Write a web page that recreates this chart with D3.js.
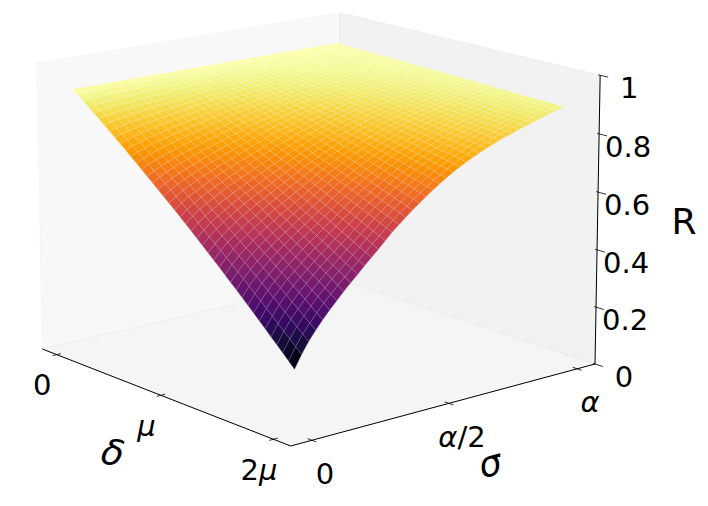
<!DOCTYPE html>
<html><head><meta charset="utf-8"><script src="https://cdn.jsdelivr.net/npm/d3@7/dist/d3.min.js"></script>
<style>html,body{margin:0;background:#fff}svg{display:block}text{font-family:"DejaVu Sans";fill:#000}</style></head><body><svg id="c" width="708" height="506"></svg>
<script>
// R x 1000. Rows: sigma from 0 to alpha; columns: delta from 0 to 2mu.
const rGridMilli=[
[913,898,883,868,852,837,821,806,790,774,758,741,725,708,692,675,658,641,624,607,589,572,554,536,518,500,482,464,445,426,408,389,370,351,331,312,292,273,253,233,213],
[913,899,885,871,856,842,827,812,797,782,767,752,736,721,705,690,674,658,642,625,609,593,576,559,542,525,508,491,474,456,439,421,403,385,367,349,330,312,293,274,256],
[913,900,886,873,859,846,832,818,804,790,775,761,746,732,717,702,687,672,657,642,626,611,595,579,563,547,531,515,498,482,465,449,432,415,398,381,363,346,328,311,293],
[913,900,888,875,862,849,836,823,809,796,782,769,755,741,727,713,699,684,670,655,641,626,611,596,581,566,550,535,519,504,488,472,456,440,424,408,391,375,358,341,324],
[913,901,889,877,865,852,840,827,814,802,789,776,763,749,736,723,709,695,682,668,654,640,626,611,597,583,568,553,539,524,509,494,478,463,448,432,417,401,385,369,353],
[913,902,890,879,867,855,843,831,819,807,795,782,770,757,745,732,719,706,693,680,667,653,640,626,613,599,585,571,557,543,528,514,500,485,470,456,441,426,411,396,380],
[913,902,891,880,869,858,847,835,824,812,800,789,777,765,753,741,728,716,703,691,678,666,653,640,627,614,600,587,574,560,547,533,519,505,491,477,463,449,434,420,405],
[913,903,892,882,871,861,850,839,828,817,806,795,783,772,760,749,737,725,714,702,690,678,665,653,641,628,616,603,590,577,564,551,538,525,512,498,485,471,458,444,430],
[913,903,893,883,873,863,853,842,832,822,811,800,789,779,768,757,746,734,723,712,700,689,677,665,654,642,630,618,606,593,581,569,556,544,531,518,505,492,479,466,453],
[913,904,894,885,875,865,856,846,836,826,816,806,795,785,775,764,754,743,732,722,711,700,689,677,666,655,644,632,620,609,597,585,573,561,549,537,525,513,500,488,475],
[913,904,895,886,877,868,859,849,840,831,821,811,802,792,782,772,762,752,742,732,721,711,700,690,679,669,658,647,636,625,614,603,591,580,569,557,546,534,522,510,499],
[913,905,896,888,879,870,862,853,844,835,826,817,808,798,789,780,770,761,751,741,732,722,712,702,692,682,672,661,651,641,630,619,609,598,587,576,565,554,543,532,521],
[913,905,897,889,881,873,865,856,848,840,831,822,814,805,796,787,778,769,760,751,742,733,723,714,705,695,685,676,666,656,646,636,626,616,606,596,585,575,565,554,543],
[913,906,898,891,883,875,868,860,852,844,836,828,820,812,803,795,787,778,770,761,752,744,735,726,717,708,699,690,681,672,662,653,644,634,625,615,605,595,586,576,566],
[913,906,899,892,885,878,871,863,856,849,841,834,826,818,811,803,795,787,779,771,763,755,747,738,730,722,713,705,696,688,679,670,661,653,644,635,626,617,607,598,589],
[913,906,900,893,887,880,873,866,860,853,846,839,831,824,817,810,802,795,788,780,772,765,757,749,742,734,726,718,710,702,694,686,677,669,661,652,644,635,627,618,609],
[913,907,901,895,888,882,876,869,863,856,850,843,837,830,823,816,810,803,796,789,782,774,767,760,753,745,738,731,723,715,708,700,692,685,677,669,661,653,645,637,629],
[913,907,902,896,890,884,878,872,866,860,854,848,842,835,829,823,816,810,803,797,790,784,777,770,763,757,750,743,736,729,721,714,707,700,693,685,678,670,663,655,648],
[913,908,902,897,892,886,881,875,870,864,858,852,847,841,835,829,823,817,811,805,799,793,786,780,774,767,761,754,748,741,735,728,721,714,708,701,694,687,680,673,666],
[913,908,903,898,893,888,883,878,873,867,862,857,851,846,840,835,829,824,818,813,807,801,795,789,784,778,772,766,760,753,747,741,735,729,722,716,709,703,697,690,683],
[913,908,904,899,895,890,885,880,876,871,866,861,856,851,846,841,836,830,825,820,815,809,804,798,793,787,782,776,771,765,759,754,748,742,736,730,724,718,712,706,700],
[913,909,905,900,896,892,887,883,878,874,869,865,860,856,851,846,841,837,832,827,822,817,812,807,802,797,792,787,781,776,771,766,760,755,750,744,739,733,728,722,716],
[913,909,905,901,897,893,889,885,881,877,873,868,864,860,856,851,847,842,838,833,829,824,820,815,810,806,801,796,791,786,782,777,772,767,762,757,752,747,741,736,731],
[913,909,906,902,898,895,891,887,883,880,876,872,868,864,860,856,852,848,844,839,835,831,827,823,818,814,810,805,801,796,792,787,783,778,773,769,764,759,755,750,745],
[913,910,906,903,900,896,893,889,886,882,879,875,871,868,864,860,857,853,849,845,841,838,834,830,826,822,818,814,810,805,801,797,793,789,784,780,776,772,767,763,758],
[913,910,907,904,901,897,894,891,888,885,881,878,875,871,868,864,861,858,854,851,847,843,840,836,832,829,825,821,818,814,810,806,802,798,794,790,786,782,778,774,770],
[913,910,907,905,902,899,896,893,890,887,884,881,878,875,871,868,865,862,859,855,852,849,846,842,839,835,832,828,825,822,818,814,811,807,804,800,796,793,789,785,781],
[913,910,908,905,903,900,897,894,892,889,886,883,880,878,875,872,869,866,863,860,857,854,851,848,845,842,838,835,832,829,826,822,819,816,812,809,806,802,799,795,792],
[913,911,908,906,903,901,899,896,894,891,888,886,883,881,878,875,873,870,867,865,862,859,856,853,851,848,845,842,839,836,833,830,827,824,821,818,815,812,809,806,802],
[913,911,909,906,904,902,900,897,895,893,890,888,886,883,881,879,876,874,871,869,866,864,861,858,856,853,850,848,845,842,840,837,834,831,829,826,823,820,817,814,811],
[913,911,909,907,905,903,901,899,897,894,892,890,888,886,884,881,879,877,875,872,870,868,865,863,860,858,856,853,851,848,846,843,841,838,836,833,830,828,825,823,820],
[913,911,909,907,906,904,902,900,898,896,894,892,890,888,886,884,882,880,878,876,873,871,869,867,865,863,860,858,856,854,851,849,847,844,842,840,837,835,832,830,828],
[913,911,910,908,906,905,903,901,899,898,896,894,892,890,888,887,885,883,881,879,877,875,873,871,869,867,865,863,861,859,857,855,853,851,848,846,844,842,840,838,835],
[913,911,910,908,907,905,904,902,901,899,897,896,894,893,891,889,888,886,884,882,881,879,877,875,874,872,870,868,866,864,862,861,859,857,855,853,851,849,847,845,843],
[913,912,910,909,908,906,905,903,902,900,899,898,896,895,893,892,890,889,887,885,884,882,881,879,877,876,874,873,871,869,868,866,864,862,861,859,857,855,854,852,850],
[913,912,911,909,908,907,906,904,903,902,901,899,898,897,895,894,893,891,890,888,887,886,884,883,881,880,879,877,876,874,873,871,870,868,866,865,863,862,860,859,857],
[913,912,911,910,909,908,907,905,904,903,902,901,900,899,898,896,895,894,893,892,890,889,888,887,885,884,883,882,880,879,878,876,875,874,872,871,870,868,867,865,864],
[913,912,911,910,909,908,907,906,905,905,904,903,902,901,900,898,897,896,895,894,893,892,891,890,889,888,887,886,884,883,882,881,880,879,878,876,875,874,873,872,870],
[913,912,911,911,910,909,908,907,907,906,905,904,903,902,902,901,900,899,898,897,896,895,894,893,892,892,891,890,889,888,887,886,885,884,883,882,881,880,879,878,877],
[913,912,912,911,910,910,909,908,908,907,906,906,905,904,903,903,902,901,901,900,899,898,898,897,896,895,894,894,893,892,891,890,890,889,888,887,886,885,885,884,883],
[913,912,912,911,911,910,910,909,909,908,908,907,907,906,905,905,904,904,903,903,902,901,901,900,900,899,898,898,897,896,896,895,895,894,893,893,892,891,891,890,889]
];
const rGrid=rGridMilli.map(r=>r.map(v=>v/1000));
const sigmaValues=rGrid.map((r,i)=>i/(rGrid.length-1)),deltaValues=rGrid[0].map((v,j)=>2*j/(rGrid[0].length-1));
const deltaTicks=[0,1,2],deltaLabels=[["0"],[["μ",1]],["2",["μ",1]]];
const sigmaTicks=[0,.5,1],sigmaLabels=[["0"],[["α",1],"/2"],[["α",1]]];
const rTicks=[0,.2,.4,.6,.8,1],rLabels=["0","0.2","0.4","0.6","0.8","1"];

const X=d3.scaleLinear([0,2],[.063,.936]),Y=d3.scaleLinear([0,1],[.065,.937]),Z=d3.scaleLinear([0,1],[0,1]);
function P(x,y,z){const w=-.08404*x+.07272*y-.019*z+1;
 return [(223.97*x+322*y-6.3*z+42.3)/w,(59.52*x-48.64*y-286.9*z+349)/w];}
const svg=d3.select("#c");
const line=d3.line();
function poly(pts){return line(pts.map(p=>P(...p)))+"Z";}
const panes=[{p:[[0,0,0],[0,0,1],[0,1,1],[0,1,0]],c:"rgb(242,242,242)"},{p:[[0,1,0],[0,1,1],[1,1,1],[1,1,0]],c:"rgb(230,230,230)"},{p:[[0,0,0],[1,0,0],[1,1,0],[0,1,0]],c:"rgb(236,236,236)"}];
svg.append("g").selectAll("path").data(panes).join("path").attr("d",d=>poly(d.p)).attr("fill",d=>d.c).attr("fill-opacity",.5).attr("stroke",d=>d.c).attr("stroke-opacity",.5).attr("stroke-width",1);
const flat=rGrid.flat();const color=d3.scaleSequential(d3.interpolateInferno).domain(d3.extent(flat));
const cells=[];const M=sigmaValues.length-1,K=deltaValues.length-1;
for(let i=M-1;i>=0;i--)for(let j=0;j<K;j++){const a=rGrid[i][j],b=rGrid[i][j+1],c=rGrid[i+1][j+1],d=rGrid[i+1][j];
 const xa=X(deltaValues[j]),xb=X(deltaValues[j+1]),ya=Y(sigmaValues[i]),yb=Y(sigmaValues[i+1]);
 cells.push({q:[[xa,ya,Z(a)],[xb,ya,Z(b)],[xb,yb,Z(c)],[xa,yb,Z(d)]],v:(a+b+c+d)/4});}
svg.append("g").selectAll("path").data(cells).join("path").attr("d",d=>poly(d.q)).attr("fill",d=>color(d.v)).attr("stroke",d=>color(d.v)).attr("stroke-width",.3);
svg.append("g").selectAll("path").data(cells).join("path").attr("d",d=>poly(d.q)).attr("fill","none").attr("stroke","rgba(255,255,255,.13)").attr("stroke-width",.8);
const ax=svg.append("g").attr("stroke","#000").attr("fill","none");
[[[0,0,0],[1,0,0]],[[1,0,0],[1,1,0]],[[1,1,0],[1,1,1]]].forEach(s=>ax.append("path").attr("d",line(s.map(p=>P(...p)))).attr("stroke-width",1));
const tk=(a,b)=>ax.append("path").attr("d",line([P(...a),P(...b)])).attr("stroke-width",.8);
deltaTicks.forEach(t=>tk([X(t),-.013,0],[X(t),.013,0]));
sigmaTicks.forEach(t=>tk([1.016,Y(t),0],[.984,Y(t),0]));
rTicks.forEach(t=>tk([.993,1,Z(t)],[1.028,1,Z(t)]));
const FS=29;
function lab(x,y,parts,size,rot){const t=svg.append("text").attr("text-anchor","middle").attr("font-size",size).attr("transform",`translate(${x},${y})`+(rot?` rotate(${rot})`:"")).attr("dy",".36em");
 parts.forEach(p=>{const s=t.append("tspan");if(Array.isArray(p)){s.text(p[0]).attr("font-style","italic")}else s.text(p)});}
deltaTicks.forEach((t,i)=>{const p=P(X(t),0,0);lab(p[0]-14.5,p[1]+30,deltaLabels[i],FS)});
sigmaTicks.forEach((t,i)=>{const p=P(1,Y(t),0);lab(p[0]+13,p[1]+33,sigmaLabels[i],FS)});
rTicks.forEach((t,i)=>{const p=P(1,1,Z(t));lab(p[0]+29,p[1]+12.5,[rLabels[i]],FS)});
lab(684,221,["R"],36);lab(490,463,[["σ",1]],36,-15);lab(113,452,[["δ",1]],36,12);
</script></body></html>
